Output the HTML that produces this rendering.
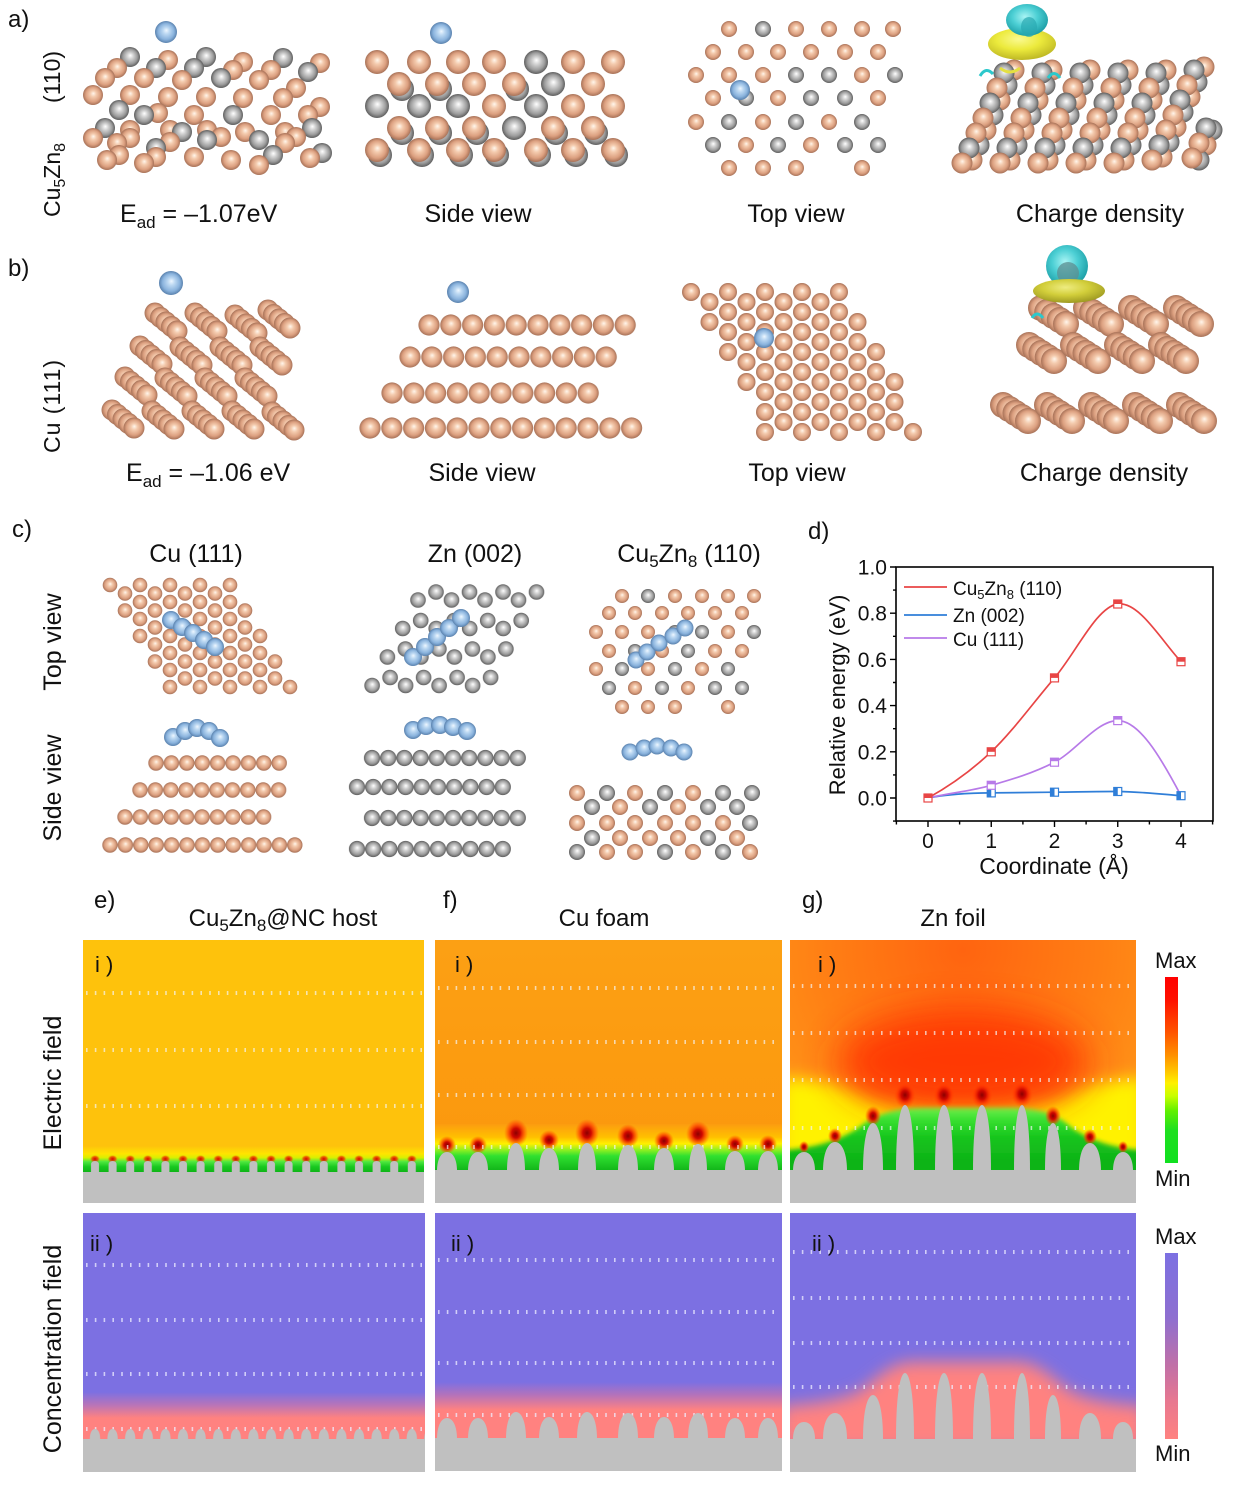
<!DOCTYPE html>
<html><head><meta charset="utf-8">
<style>
html,body{margin:0;padding:0;background:#fff;}
svg{display:block;}
text{font-family:"Liberation Sans",Arial,sans-serif;fill:#111;}
.c{fill:url(#gC);} .z{fill:url(#gZ);} .l{fill:url(#gL);}
</style></head><body>
<svg xmlns="http://www.w3.org/2000/svg" width="1233" height="1487" viewBox="0 0 1233 1487">
<defs>
<radialGradient id="gC" cx=".5" cy=".5" r=".5" fx=".52" fy=".42"><stop offset="0" stop-color="#FFF6EC"/><stop offset=".3" stop-color="#F4CBAE"/><stop offset=".72" stop-color="#DCA080"/><stop offset="1" stop-color="#A87258"/></radialGradient>
<radialGradient id="gZ" cx=".5" cy=".5" r=".5" fx=".52" fy=".42"><stop offset="0" stop-color="#FFFFFF"/><stop offset=".3" stop-color="#D4D4D4"/><stop offset=".72" stop-color="#9C9C9C"/><stop offset="1" stop-color="#5E5E5E"/></radialGradient>
<radialGradient id="gL" cx=".5" cy=".5" r=".5" fx=".52" fy=".42"><stop offset="0" stop-color="#EEF7FF"/><stop offset=".3" stop-color="#BCD8F2"/><stop offset=".72" stop-color="#8AB3DD"/><stop offset="1" stop-color="#5A82AE"/></radialGradient>
<radialGradient id="gCy" cx=".45" cy=".4" r=".6"><stop offset="0" stop-color="#A8F4F4"/><stop offset=".5" stop-color="#4CCFD4"/><stop offset="1" stop-color="#1C9EA6"/></radialGradient>
<radialGradient id="gY" cx=".45" cy=".35" r=".65"><stop offset="0" stop-color="#FAFA90"/><stop offset=".5" stop-color="#ECEA3C"/><stop offset="1" stop-color="#BEB824"/></radialGradient>
<radialGradient id="gY2" cx=".45" cy=".35" r=".65"><stop offset="0" stop-color="#EEEC80"/><stop offset=".5" stop-color="#D2CE3A"/><stop offset="1" stop-color="#9E9A22"/></radialGradient>
<radialGradient id="gHot"><stop offset="0" stop-color="#8C0000"/><stop offset=".35" stop-color="#D00800"/><stop offset=".7" stop-color="#FF3000" stop-opacity=".55"/><stop offset="1" stop-color="#FF5000" stop-opacity="0"/></radialGradient>
<radialGradient id="gHotS"><stop offset="0" stop-color="#D80000"/><stop offset=".6" stop-color="#F02800" stop-opacity=".7"/><stop offset="1" stop-color="#FF6000" stop-opacity="0"/></radialGradient>
<radialGradient id="gBgG" gradientUnits="userSpaceOnUse" cx="963" cy="950" r="300"><stop offset="0" stop-color="#FF6410"/><stop offset=".45" stop-color="#FF7E14"/><stop offset="1" stop-color="#FFA51A"/></radialGradient>
<linearGradient id="bandE" gradientUnits="userSpaceOnUse" x1="0" y1="1146" x2="0" y2="1172"><stop offset="0" stop-color="#FEC20C"/><stop offset=".3" stop-color="#FFE400"/><stop offset=".45" stop-color="#D8F000"/><stop offset=".6" stop-color="#50E840"/><stop offset=".8" stop-color="#18C820"/><stop offset="1" stop-color="#10B418"/></linearGradient>
<linearGradient id="bandF" gradientUnits="userSpaceOnUse" x1="0" y1="1124" x2="0" y2="1171"><stop offset="0" stop-color="#FC9C10"/><stop offset=".28" stop-color="#FFC000"/><stop offset=".42" stop-color="#FFF000"/><stop offset=".55" stop-color="#90F020"/><stop offset=".68" stop-color="#30E030"/><stop offset="1" stop-color="#10B418"/></linearGradient>
<linearGradient id="bgF" x1="0" y1="0" x2="0" y2="1"><stop offset="0" stop-color="#FCA014"/><stop offset="1" stop-color="#FB960C"/></linearGradient>
<linearGradient id="greenG" gradientUnits="userSpaceOnUse" x1="0" y1="1106" x2="0" y2="1160"><stop offset="0" stop-color="#78F050"/><stop offset=".25" stop-color="#38E030"/><stop offset=".6" stop-color="#14C41C"/><stop offset="1" stop-color="#10B418"/></linearGradient>
<linearGradient id="bandCe" gradientUnits="userSpaceOnUse" x1="0" y1="1392" x2="0" y2="1418"><stop offset="0" stop-color="#7C70E2"/><stop offset=".5" stop-color="#B874B8"/><stop offset="1" stop-color="#FF8280"/></linearGradient>
<linearGradient id="bandCf" gradientUnits="userSpaceOnUse" x1="0" y1="1382" x2="0" y2="1410"><stop offset="0" stop-color="#7C70E2"/><stop offset=".45" stop-color="#B272BC"/><stop offset="1" stop-color="#FF8280"/></linearGradient>
<linearGradient id="cbE" x1="0" y1="0" x2="0" y2="1"><stop offset="0" stop-color="#FF0000"/><stop offset=".12" stop-color="#FF1000"/><stop offset=".3" stop-color="#FF5500"/><stop offset=".42" stop-color="#FF9000"/><stop offset=".5" stop-color="#FFC000"/><stop offset=".57" stop-color="#FFF000"/><stop offset=".64" stop-color="#C8FF00"/><stop offset=".72" stop-color="#60F000"/><stop offset=".82" stop-color="#20E020"/><stop offset="1" stop-color="#10E020"/></linearGradient>
<linearGradient id="cbC" x1="0" y1="0" x2="0" y2="1"><stop offset="0" stop-color="#7C70E2"/><stop offset=".35" stop-color="#8E6FD0"/><stop offset=".6" stop-color="#C070A8"/><stop offset=".8" stop-color="#E87890"/><stop offset="1" stop-color="#FF8280"/></linearGradient>
<filter id="bl3" x="-50%" y="-50%" width="200%" height="200%"><feGaussianBlur stdDeviation="2.5"/></filter>
<filter id="bl8" x="-50%" y="-50%" width="200%" height="200%"><feGaussianBlur stdDeviation="8"/></filter>
<filter id="bl18" x="-50%" y="-50%" width="200%" height="200%"><feGaussianBlur stdDeviation="18"/></filter>
<clipPath id="ce"><rect x="83" y="940" width="341" height="263"/></clipPath>
<clipPath id="cf"><rect x="435" y="940" width="347" height="263"/></clipPath>
<clipPath id="cg"><rect x="790" y="940" width="346" height="263"/></clipPath>
<clipPath id="ce2"><rect x="83" y="1213" width="342" height="259"/></clipPath>
<clipPath id="cf2"><rect x="435" y="1213" width="347" height="258"/></clipPath>
<clipPath id="cg2"><rect x="790" y="1213" width="346" height="259"/></clipPath>
<pattern id="pB3" width="37" height="20" patternUnits="userSpaceOnUse"><circle cx="18.5" cy="10" r="9" fill="url(#gC)"/></pattern>
<pattern id="pC1" width="30" height="17" patternUnits="userSpaceOnUse"><circle cx="15" cy="8.5" r="7.3" fill="url(#gC)"/></pattern>
<pattern id="pZ2" width="33.5" height="18" patternUnits="userSpaceOnUse"><circle cx="16.75" cy="9" r="7.8" fill="url(#gZ)"/></pattern>
<pattern id="pB2" width="21.8" height="24" patternUnits="userSpaceOnUse"><circle cx="10.9" cy="12" r="10.6" fill="url(#gC)"/></pattern>
<pattern id="pC1s" width="15.4" height="17" patternUnits="userSpaceOnUse"><circle cx="7.7" cy="8.5" r="7.7" fill="url(#gC)"/></pattern>
<pattern id="pZ2s" width="16.2" height="18" patternUnits="userSpaceOnUse"><circle cx="8.1" cy="9" r="8.1" fill="url(#gZ)"/></pattern>
<pattern id="pBumpE" width="17.6" height="11" patternUnits="userSpaceOnUse"><path d="M4.8,11 L4.8,4 Q4.8,0 8.8,0 Q12.8,0 12.8,4 L12.8,11Z" fill="#C0C0C0"/></pattern>
<pattern id="pRedE" width="17.6" height="10" patternUnits="userSpaceOnUse"><ellipse cx="8.8" cy="5" rx="5" ry="4" fill="url(#gHotS)"/></pattern>
<pattern id="pBumpC" width="17.6" height="11" patternUnits="userSpaceOnUse"><path d="M3.6,11 C3.6,4 5.8,0.5 8.8,0.5 C11.8,0.5 14,4 14,11Z" fill="#C0C0C0"/></pattern>
<g id="sb1"><circle r="10.5" fill="url(#gC)"/><circle cx="5.5" cy="4.5" r="10.5" fill="url(#gC)"/><circle cx="11" cy="9" r="10.5" fill="url(#gC)"/><circle cx="16.5" cy="13.5" r="10.5" fill="url(#gC)"/><circle cx="22" cy="18" r="10.5" fill="url(#gC)"/></g>
<g id="sb4"><circle r="13" fill="url(#gC)"/><circle cx="6.25" cy="4" r="13" fill="url(#gC)"/><circle cx="12.5" cy="8" r="13" fill="url(#gC)"/><circle cx="18.75" cy="12" r="13" fill="url(#gC)"/><circle cx="25" cy="16" r="13" fill="url(#gC)"/></g>
<g id="sa4">
<circle cx="52" cy="-93" r="10.5" fill="url(#gC)"/><circle cx="45" cy="-78" r="10.5" fill="url(#gZ)"/><circle cx="38" cy="-63" r="10.5" fill="url(#gC)"/><circle cx="31" cy="-48" r="10.5" fill="url(#gZ)"/><circle cx="24" cy="-33" r="10.5" fill="url(#gC)"/><circle cx="17" cy="-18" r="10.5" fill="url(#gZ)"/><circle cx="10" cy="-3" r="10.5" fill="url(#gC)"/>
<circle cx="42" cy="-90" r="10.5" fill="url(#gZ)"/><circle cx="35" cy="-75" r="10.5" fill="url(#gC)"/><circle cx="28" cy="-60" r="10.5" fill="url(#gZ)"/><circle cx="21" cy="-45" r="10.5" fill="url(#gC)"/><circle cx="14" cy="-30" r="10.5" fill="url(#gC)"/><circle cx="7" cy="-15" r="10.5" fill="url(#gZ)"/><circle cx="0" cy="0" r="10.5" fill="url(#gC)"/>
</g>
</defs>
<rect width="1233" height="1487" fill="#fff"/>

<!-- ================= PANEL a ================= -->
<text x="8" y="27" font-size="24">a)</text>
<text transform="translate(60,217) rotate(-90)" font-size="23">Cu<tspan font-size="16" dy="5">5</tspan><tspan dy="-5">Zn</tspan><tspan font-size="16" dy="5">8</tspan><tspan dy="-5" dx="40">(110)</tspan></text>

<g>
<circle class="z" cx="130" cy="57" r="10"/><circle class="z" cx="206" cy="57" r="10"/><circle class="z" cx="283" cy="58" r="10"/><circle class="c" cx="168" cy="60" r="10"/><circle class="c" cx="243" cy="62" r="10"/><circle class="c" cx="320" cy="63" r="10"/>
<circle class="c" cx="117" cy="68" r="10"/><circle class="z" cx="156" cy="68" r="10"/><circle class="z" cx="194" cy="68" r="10"/><circle class="c" cx="233" cy="70" r="10"/><circle class="c" cx="271" cy="70" r="10"/><circle class="z" cx="308" cy="72" r="10"/>
<circle class="c" cx="105" cy="78" r="10"/><circle class="c" cx="144" cy="78" r="10"/><circle class="z" cx="221" cy="78" r="10"/><circle class="c" cx="182" cy="80" r="10"/><circle class="c" cx="259" cy="80" r="10"/><circle class="c" cx="296" cy="88" r="10"/>
<circle class="c" cx="93" cy="95" r="10"/><circle class="c" cx="130" cy="95" r="10"/><circle class="c" cx="168" cy="97" r="10"/><circle class="c" cx="206" cy="97" r="10"/><circle class="c" cx="243" cy="98" r="10"/><circle class="c" cx="283" cy="98" r="10"/><circle class="c" cx="320" cy="107" r="10"/>
<circle class="z" cx="119" cy="110" r="10"/><circle class="c" cx="158" cy="113" r="10"/><circle class="z" cx="144" cy="115" r="10"/><circle class="c" cx="194" cy="115" r="10"/><circle class="z" cx="233" cy="115" r="10"/><circle class="c" cx="271" cy="115" r="10"/><circle class="c" cx="308" cy="115" r="10"/>
<circle class="z" cx="105" cy="128" r="10"/><circle class="z" cx="312" cy="128" r="10"/><circle class="c" cx="130" cy="130" r="10"/><circle class="c" cx="170" cy="130" r="10"/><circle class="c" cx="207" cy="130" r="10"/><circle class="z" cx="182" cy="132" r="10"/><circle class="c" cx="245" cy="132" r="10"/><circle class="c" cx="285" cy="132" r="10"/>
<circle class="c" cx="221" cy="137" r="10"/><circle class="c" cx="296" cy="137" r="10"/><circle class="c" cx="93" cy="138" r="10"/><circle class="c" cx="130" cy="138" r="10"/><circle class="z" cx="207" cy="140" r="10"/><circle class="z" cx="259" cy="140" r="10"/><circle class="c" cx="170" cy="142" r="10"/><circle class="c" cx="117" cy="143" r="10"/><circle class="c" cx="285" cy="143" r="10"/><circle class="z" cx="156" cy="148" r="10"/>
<circle class="z" cx="322" cy="153" r="10"/><circle class="c" cx="119" cy="155" r="10"/><circle class="z" cx="273" cy="155" r="10"/><circle class="c" cx="156" cy="157" r="10"/><circle class="c" cx="194" cy="157" r="10"/><circle class="c" cx="310" cy="158" r="10"/><circle class="c" cx="107" cy="160" r="10"/><circle class="c" cx="231" cy="160" r="10"/><circle class="c" cx="144" cy="163" r="10"/><circle class="c" cx="259" cy="165" r="10"/>
<circle class="l" cx="166" cy="32" r="11"/>
</g>

<g>
<circle class="c" cx="377" cy="62" r="12"/><circle class="c" cx="419" cy="62" r="12"/><circle class="c" cx="458" cy="62" r="12"/><circle class="c" cx="494" cy="62" r="12"/><circle class="z" cx="536" cy="62" r="12"/><circle class="c" cx="573" cy="62" r="12"/><circle class="c" cx="613" cy="62" r="12"/>
<circle class="z" cx="402" cy="89" r="12"/><circle class="z" cx="440" cy="89" r="12"/><circle class="z" cx="517" cy="89" r="12"/>
<circle class="c" cx="399" cy="84" r="12"/><circle class="c" cx="437" cy="84" r="12"/><circle class="c" cx="474" cy="84" r="12"/><circle class="c" cx="514" cy="84" r="12"/><circle class="z" cx="553" cy="84" r="12"/><circle class="c" cx="593" cy="84" r="12"/>
<circle class="z" cx="377" cy="106" r="12"/><circle class="z" cx="419" cy="106" r="12"/><circle class="z" cx="458" cy="106" r="12"/><circle class="c" cx="494" cy="106" r="12"/><circle class="z" cx="536" cy="106" r="12"/><circle class="c" cx="573" cy="106" r="12"/><circle class="c" cx="613" cy="106" r="12"/>
<circle class="z" cx="402" cy="133" r="12"/><circle class="z" cx="440" cy="133" r="12"/><circle class="z" cx="477" cy="133" r="12"/><circle class="z" cx="556" cy="133" r="12"/><circle class="z" cx="596" cy="133" r="12"/>
<circle class="c" cx="399" cy="128" r="12"/><circle class="c" cx="437" cy="128" r="12"/><circle class="c" cx="474" cy="128" r="12"/><circle class="z" cx="514" cy="128" r="12"/><circle class="c" cx="553" cy="128" r="12"/><circle class="c" cx="593" cy="128" r="12"/>
<circle class="z" cx="380" cy="155" r="12"/><circle class="z" cx="422" cy="155" r="12"/><circle class="z" cx="461" cy="155" r="12"/><circle class="z" cx="497" cy="155" r="12"/><circle class="z" cx="539" cy="155" r="12"/><circle class="z" cx="576" cy="155" r="12"/><circle class="z" cx="616" cy="155" r="12"/>
<circle class="c" cx="377" cy="150" r="12"/><circle class="c" cx="419" cy="150" r="12"/><circle class="c" cx="458" cy="150" r="12"/><circle class="c" cx="494" cy="150" r="12"/><circle class="c" cx="536" cy="150" r="12"/><circle class="c" cx="573" cy="150" r="12"/><circle class="c" cx="613" cy="150" r="12"/>
<circle class="l" cx="441" cy="33" r="11"/>
</g>

<g>
<circle class="c" cx="729" cy="29" r="8"/><circle class="z" cx="763" cy="29" r="8"/><circle class="c" cx="796" cy="29" r="8"/><circle class="c" cx="829" cy="29" r="8"/><circle class="c" cx="862" cy="29" r="8"/><circle class="c" cx="893" cy="29" r="8"/>
<circle class="c" cx="713" cy="52" r="8"/><circle class="c" cx="746" cy="52" r="8"/><circle class="c" cx="778" cy="52" r="8"/><circle class="c" cx="811" cy="52" r="8"/><circle class="c" cx="845" cy="52" r="8"/><circle class="c" cx="878" cy="52" r="8"/>
<circle class="c" cx="696" cy="75" r="8"/><circle class="c" cx="729" cy="75" r="8"/><circle class="c" cx="763" cy="75" r="8"/><circle class="z" cx="796" cy="75" r="8"/><circle class="z" cx="829" cy="75" r="8"/><circle class="c" cx="862" cy="75" r="8"/><circle class="z" cx="895" cy="75" r="8"/>
<circle class="c" cx="713" cy="98" r="8"/><circle class="z" cx="746" cy="98" r="8"/><circle class="c" cx="778" cy="98" r="8"/><circle class="z" cx="811" cy="98" r="8"/><circle class="z" cx="845" cy="98" r="8"/><circle class="c" cx="878" cy="98" r="8"/>
<circle class="c" cx="696" cy="122" r="8"/><circle class="z" cx="729" cy="122" r="8"/><circle class="c" cx="763" cy="122" r="8"/><circle class="z" cx="796" cy="122" r="8"/><circle class="c" cx="829" cy="122" r="8"/><circle class="z" cx="862" cy="122" r="8"/>
<circle class="z" cx="713" cy="145" r="8"/><circle class="c" cx="746" cy="145" r="8"/><circle class="z" cx="778" cy="145" r="8"/><circle class="c" cx="811" cy="145" r="8"/><circle class="z" cx="845" cy="145" r="8"/><circle class="z" cx="878" cy="145" r="8"/>
<circle class="c" cx="729" cy="168" r="8"/><circle class="c" cx="763" cy="168" r="8"/><circle class="c" cx="796" cy="168" r="8"/><circle class="c" cx="862" cy="168" r="8"/>
<circle class="l" cx="740" cy="90" r="10"/>
</g>

<g>
<use href="#sa4" x="962" y="163"/><use href="#sa4" x="1000" y="163"/><use href="#sa4" x="1038" y="163"/><use href="#sa4" x="1076" y="163"/><use href="#sa4" x="1114" y="163"/><use href="#sa4" x="1152" y="160"/>
<circle class="z" cx="1212" cy="130" r="10.5"/><circle class="c" cx="1206" cy="145" r="10.5"/><circle class="z" cx="1199" cy="160" r="10.5"/>
<circle class="z" cx="1206" cy="128" r="10.5"/><circle class="c" cx="1199" cy="143" r="10.5"/><circle class="c" cx="1192" cy="158" r="10.5"/>
<path d="M980,76 q6,-10 13,-2" stroke="#2CC8CC" stroke-width="3" fill="none"/>
<path d="M1048,78 q6,-9 12,0" stroke="#2CC8CC" stroke-width="3" fill="none"/>
<path d="M1000,68 q10,8 20,0" stroke="#E4E040" stroke-width="3" fill="none"/>
<ellipse cx="1022" cy="44" rx="34" ry="16" fill="url(#gY)"/>
<ellipse cx="1027" cy="20" rx="21" ry="16" fill="url(#gCy)"/>
<ellipse cx="1029" cy="27" rx="8" ry="10" fill="#2AA8B0" opacity=".7"/>
</g>

<g font-size="25" text-anchor="middle">
<text x="120" y="222" text-anchor="start">E<tspan font-size="17" dy="6">ad</tspan><tspan dy="-6"> = –1.07eV</tspan></text>
<text x="478" y="222">Side view</text>
<text x="796" y="222">Top view</text>
<text x="1100" y="222">Charge density</text>
</g>

<!-- ================= PANEL b ================= -->
<text x="8" y="276" font-size="24">b)</text>
<text transform="translate(60,453) rotate(-90)" font-size="23" letter-spacing="1">Cu (111)</text>

<g>
<circle class="l" cx="171" cy="283" r="12"/>
<use href="#sb1" x="155" y="313"/><use href="#sb1" x="195" y="313"/><use href="#sb1" x="235" y="315"/><use href="#sb1" x="268" y="310"/>
<use href="#sb1" x="140" y="346"/><use href="#sb1" x="180" y="347"/><use href="#sb1" x="220" y="347"/><use href="#sb1" x="260" y="347"/>
<use href="#sb1" x="125" y="377"/><use href="#sb1" x="165" y="378"/><use href="#sb1" x="205" y="378"/><use href="#sb1" x="245" y="378"/>
<use href="#sb1" x="112" y="410"/><use href="#sb1" x="152" y="411"/><use href="#sb1" x="192" y="411"/><use href="#sb1" x="232" y="411"/><use href="#sb1" x="272" y="412"/>
</g>

<g>
<rect transform="translate(418.1,313)" width="218" height="24" fill="url(#pB2)"/>
<rect transform="translate(399.1,345)" width="218" height="24" fill="url(#pB2)"/>
<rect transform="translate(381.1,381)" width="218" height="24" fill="url(#pB2)"/>
<rect transform="translate(359.1,416)" width="283.4" height="24" fill="url(#pB2)"/>
<circle class="l" cx="458" cy="292" r="11"/>
</g>

<g>
<rect transform="translate(672.5,282)" width="185" height="20" fill="url(#pB3)"/>
<rect transform="translate(691,292)" width="148" height="20" fill="url(#pB3)"/>
<rect transform="translate(709.5,302)" width="148" height="20" fill="url(#pB3)"/>
<rect transform="translate(691,312)" width="185" height="20" fill="url(#pB3)"/>
<rect transform="translate(709.5,322)" width="148" height="20" fill="url(#pB3)"/>
<rect transform="translate(728,332)" width="148" height="20" fill="url(#pB3)"/>
<rect transform="translate(709.5,342)" width="185" height="20" fill="url(#pB3)"/>
<rect transform="translate(728,352)" width="148" height="20" fill="url(#pB3)"/>
<rect transform="translate(746.5,362)" width="148" height="20" fill="url(#pB3)"/>
<rect transform="translate(728,372)" width="185" height="20" fill="url(#pB3)"/>
<rect transform="translate(746.5,382)" width="148" height="20" fill="url(#pB3)"/>
<rect transform="translate(765,392)" width="148" height="20" fill="url(#pB3)"/>
<rect transform="translate(746.5,402)" width="148" height="20" fill="url(#pB3)"/>
<rect transform="translate(765,412)" width="148" height="20" fill="url(#pB3)"/>
<rect transform="translate(746.5,422)" width="185" height="20" fill="url(#pB3)"/>
<circle class="l" cx="764" cy="338" r="10"/>
</g>

<g>
<use href="#sb4" x="1041" y="308"/><use href="#sb4" x="1086" y="308"/><use href="#sb4" x="1131" y="308"/><use href="#sb4" x="1176" y="308"/>
<use href="#sb4" x="1029" y="345"/><use href="#sb4" x="1073" y="345"/><use href="#sb4" x="1117" y="345"/><use href="#sb4" x="1161" y="345"/>
<use href="#sb4" x="1003" y="405"/><use href="#sb4" x="1047" y="405"/><use href="#sb4" x="1091" y="405"/><use href="#sb4" x="1135" y="405"/><use href="#sb4" x="1179" y="405"/>
<path d="M1032,318 q5,-8 11,0" stroke="#2CC8CC" stroke-width="3" fill="none"/>
<ellipse cx="1067" cy="266" rx="21" ry="21" fill="url(#gCy)"/>
<circle cx="1068" cy="273" r="11" fill="#5E8E90" opacity=".75"/>
<ellipse cx="1069" cy="291" rx="36" ry="12" fill="url(#gY2)"/>
</g>

<g font-size="25" text-anchor="middle">
<text x="126" y="481" text-anchor="start">E<tspan font-size="17" dy="6">ad</tspan><tspan dy="-6"> = –1.06 eV</tspan></text>
<text x="482" y="481">Side view</text>
<text x="797" y="481">Top view</text>
<text x="1104" y="481">Charge density</text>
</g>

<!-- ================= PANEL c ================= -->
<text x="12" y="537" font-size="24">c)</text>
<g font-size="25" text-anchor="middle">
<text x="196" y="562">Cu (111)</text>
<text x="475" y="562">Zn (002)</text>
<text x="689" y="562">Cu<tspan font-size="17" dy="5">5</tspan><tspan dy="-5">Zn</tspan><tspan font-size="17" dy="5">8</tspan><tspan dy="-5"> (110)</tspan></text>
<text transform="translate(61,642) rotate(-90)">Top view</text>
<text transform="translate(61,788) rotate(-90)">Side view</text>
</g>

<g>
<rect transform="translate(95,576.5)" width="150" height="17" fill="url(#pC1)"/>
<rect transform="translate(110,585)" width="120" height="17" fill="url(#pC1)"/>
<rect transform="translate(125,593.5)" width="120" height="17" fill="url(#pC1)"/>
<rect transform="translate(110,602)" width="150" height="17" fill="url(#pC1)"/>
<rect transform="translate(125,610.5)" width="120" height="17" fill="url(#pC1)"/>
<rect transform="translate(140,619)" width="120" height="17" fill="url(#pC1)"/>
<rect transform="translate(125,627.5)" width="150" height="17" fill="url(#pC1)"/>
<rect transform="translate(140,636)" width="120" height="17" fill="url(#pC1)"/>
<rect transform="translate(155,644.5)" width="120" height="17" fill="url(#pC1)"/>
<rect transform="translate(140,653)" width="150" height="17" fill="url(#pC1)"/>
<rect transform="translate(155,661.5)" width="120" height="17" fill="url(#pC1)"/>
<rect transform="translate(170,670)" width="120" height="17" fill="url(#pC1)"/>
<rect transform="translate(155,678.5)" width="150" height="17" fill="url(#pC1)"/>
<circle class="l" cx="171" cy="620" r="9"/><circle class="l" cx="182" cy="627" r="9"/><circle class="l" cx="193" cy="633" r="9"/><circle class="l" cx="204" cy="640" r="9"/><circle class="l" cx="215" cy="647" r="9"/>
</g>

<g>
<rect transform="translate(419.25,583)" width="134" height="18" fill="url(#pZ2)"/>
<rect transform="translate(401.25,591)" width="134" height="18" fill="url(#pZ2)"/>
<rect transform="translate(403.95,611.5)" width="134" height="18" fill="url(#pZ2)"/>
<rect transform="translate(385.95,619.5)" width="134" height="18" fill="url(#pZ2)"/>
<rect transform="translate(388.65,640)" width="134" height="18" fill="url(#pZ2)"/>
<rect transform="translate(370.65,648)" width="134" height="18" fill="url(#pZ2)"/>
<rect transform="translate(373.35,668.5)" width="134" height="18" fill="url(#pZ2)"/>
<rect transform="translate(355.35,676.5)" width="134" height="18" fill="url(#pZ2)"/>
<circle class="l" cx="413" cy="657" r="9"/><circle class="l" cx="425" cy="647" r="9"/><circle class="l" cx="437" cy="637" r="9"/><circle class="l" cx="449" cy="628" r="9"/><circle class="l" cx="461" cy="618" r="9"/>
</g>

<g>
<circle class="c" cx="622" cy="596" r="7"/><circle class="z" cx="648" cy="596" r="7"/><circle class="c" cx="675" cy="596" r="7"/><circle class="c" cx="702" cy="596" r="7"/><circle class="c" cx="728" cy="596" r="7"/><circle class="c" cx="754" cy="596" r="7"/>
<circle class="c" cx="609" cy="613" r="7"/><circle class="c" cx="635" cy="613" r="7"/><circle class="c" cx="662" cy="613" r="7"/><circle class="c" cx="688" cy="613" r="7"/><circle class="c" cx="715" cy="613" r="7"/><circle class="c" cx="742" cy="613" r="7"/>
<circle class="c" cx="596" cy="632" r="7"/><circle class="c" cx="622" cy="632" r="7"/><circle class="c" cx="648" cy="632" r="7"/><circle class="z" cx="675" cy="632" r="7"/><circle class="z" cx="702" cy="632" r="7"/><circle class="c" cx="728" cy="632" r="7"/><circle class="z" cx="754" cy="632" r="7"/>
<circle class="c" cx="609" cy="651" r="7"/><circle class="z" cx="635" cy="651" r="7"/><circle class="c" cx="662" cy="651" r="7"/><circle class="z" cx="688" cy="651" r="7"/><circle class="c" cx="715" cy="651" r="7"/><circle class="c" cx="742" cy="651" r="7"/>
<circle class="c" cx="596" cy="669" r="7"/><circle class="z" cx="622" cy="669" r="7"/><circle class="c" cx="648" cy="669" r="7"/><circle class="z" cx="675" cy="669" r="7"/><circle class="c" cx="702" cy="669" r="7"/><circle class="z" cx="728" cy="669" r="7"/>
<circle class="z" cx="609" cy="688" r="7"/><circle class="c" cx="635" cy="688" r="7"/><circle class="z" cx="662" cy="688" r="7"/><circle class="c" cx="688" cy="688" r="7"/><circle class="z" cx="715" cy="688" r="7"/><circle class="z" cx="742" cy="688" r="7"/>
<circle class="c" cx="622" cy="707" r="7"/><circle class="c" cx="648" cy="707" r="7"/><circle class="c" cx="675" cy="707" r="7"/><circle class="c" cx="728" cy="707" r="7"/>
<circle class="l" cx="636" cy="660" r="8.5"/><circle class="l" cx="647" cy="652" r="8.5"/><circle class="l" cx="659" cy="643" r="8.5"/><circle class="l" cx="673" cy="636" r="8.5"/><circle class="l" cx="685" cy="628" r="8.5"/>
</g>

<g>
<circle class="l" cx="173" cy="737" r="9"/><circle class="l" cx="185" cy="731" r="9"/><circle class="l" cx="197" cy="728" r="9"/><circle class="l" cx="209" cy="731" r="9"/><circle class="l" cx="220" cy="738" r="9"/>
<rect transform="translate(148.3,754.5)" width="138.6" height="17" fill="url(#pC1s)"/>
<rect transform="translate(132.3,781.5)" width="154" height="17" fill="url(#pC1s)"/>
<rect transform="translate(117.3,808.5)" width="154" height="17" fill="url(#pC1s)"/>
<rect transform="translate(102.3,836.5)" width="200.2" height="17" fill="url(#pC1s)"/>
</g>

<g>
<circle class="l" cx="413" cy="730" r="9"/><circle class="l" cx="426" cy="726" r="9"/><circle class="l" cx="440" cy="725" r="9"/><circle class="l" cx="453" cy="727" r="9"/><circle class="l" cx="467" cy="731" r="9"/>
<rect transform="translate(363.9,749)" width="162" height="18" fill="url(#pZ2s)"/>
<rect transform="translate(348.9,778)" width="162" height="18" fill="url(#pZ2s)"/>
<rect transform="translate(363.9,809)" width="162" height="18" fill="url(#pZ2s)"/>
<rect transform="translate(348.9,840)" width="162" height="18" fill="url(#pZ2s)"/>
</g>

<g>
<circle class="l" cx="630" cy="752" r="8.5"/><circle class="l" cx="644" cy="748" r="8.5"/><circle class="l" cx="657" cy="746" r="8.5"/><circle class="l" cx="671" cy="748" r="8.5"/><circle class="l" cx="684" cy="752" r="8.5"/>
<circle class="c" cx="577" cy="793" r="8"/><circle class="z" cx="607" cy="793" r="8"/><circle class="c" cx="635" cy="793" r="8"/><circle class="z" cx="665" cy="793" r="8"/><circle class="c" cx="693" cy="793" r="8"/><circle class="z" cx="723" cy="793" r="8"/><circle class="z" cx="752" cy="793" r="8"/>
<circle class="z" cx="592" cy="807" r="8"/><circle class="c" cx="620" cy="807" r="8"/><circle class="z" cx="650" cy="807" r="8"/><circle class="c" cx="678" cy="807" r="8"/><circle class="z" cx="708" cy="807" r="8"/><circle class="z" cx="737" cy="807" r="8"/>
<circle class="c" cx="577" cy="823" r="8"/><circle class="c" cx="607" cy="823" r="8"/><circle class="c" cx="635" cy="823" r="8"/><circle class="c" cx="665" cy="823" r="8"/><circle class="c" cx="693" cy="823" r="8"/><circle class="c" cx="723" cy="823" r="8"/><circle class="z" cx="750" cy="823" r="8"/>
<circle class="z" cx="592" cy="838" r="8"/><circle class="c" cx="620" cy="838" r="8"/><circle class="c" cx="650" cy="838" r="8"/><circle class="c" cx="678" cy="838" r="8"/><circle class="z" cx="708" cy="838" r="8"/><circle class="c" cx="737" cy="838" r="8"/>
<circle class="z" cx="577" cy="852" r="8"/><circle class="c" cx="607" cy="852" r="8"/><circle class="c" cx="635" cy="852" r="8"/><circle class="z" cx="665" cy="852" r="8"/><circle class="c" cx="693" cy="852" r="8"/><circle class="z" cx="723" cy="852" r="8"/><circle class="c" cx="750" cy="852" r="8"/>
</g>

<!-- ================= PANEL d ================= -->
<text x="808" y="539" font-size="24">d)</text>
<rect x="896" y="567" width="317" height="254" fill="none" stroke="#000" stroke-width="1.6"/>
<path d="M890,567H896 M890,613.2H896 M890,659.4H896 M890,705.6H896 M890,751.8H896 M890,798H896 M893,590.1H896 M893,636.3H896 M893,682.5H896 M893,728.7H896 M893,774.9H896 M893,821.1H896 M928,821V827 M991.25,821V827 M1054.5,821V827 M1117.75,821V827 M1181,821V827 M896.4,821V824.5 M959.6,821V824.5 M1022.9,821V824.5 M1086.1,821V824.5 M1149.4,821V824.5 M1212.6,821V824.5" stroke="#000" stroke-width="1.4" fill="none"/>
<g font-size="21" text-anchor="end">
<text x="887" y="574.5">1.0</text><text x="887" y="620.7">0.8</text><text x="887" y="666.9">0.6</text><text x="887" y="713.1">0.4</text><text x="887" y="759.3">0.2</text><text x="887" y="805.5">0.0</text>
</g>
<g font-size="21" text-anchor="middle">
<text x="928" y="848">0</text><text x="991.25" y="848">1</text><text x="1054.5" y="848">2</text><text x="1117.75" y="848">3</text><text x="1181" y="848">4</text>
</g>
<text x="1054" y="874" font-size="23" text-anchor="middle">Coordinate (Å)</text>
<text transform="translate(845,695) rotate(-90)" font-size="22" text-anchor="middle">Relative energy (eV)</text>

<path d="M928,798 C949,794 970,793 991.25,792.9 C1012,792.8 1033,792.4 1054.5,792.2 C1076,792 1097,791.3 1117.75,791.5 C1139,791.7 1160,794 1181,795.7" stroke="#2F7ED8" stroke-width="1.7" fill="none"/>
<path d="M928,798 C949.1,793 970.2,791.3 991.25,785.3 C1012.3,779.3 1033.4,773 1054.5,762.2 C1075.6,751.4 1096.7,720.6 1117.75,720.6 C1138.8,720.6 1159.9,755.7 1181,795.7" stroke="#B77AE8" stroke-width="1.7" fill="none"/>
<path d="M928,798 C949.1,786.3 970.2,771.8 991.25,751.8 C1012.3,731.8 1033.4,702.5 1054.5,677.9 C1075.6,653.3 1096.7,606.7 1117.75,604 C1138.8,601.3 1159.9,638.4 1181,661.7" stroke="#E84545" stroke-width="1.7" fill="none"/>
<g stroke-width="1.2">
<g stroke="#2F7ED8"><rect x="987.25" y="788.9" width="8" height="8" fill="#fff"/><rect x="1050.5" y="788.2" width="8" height="8" fill="#fff"/><rect x="1113.75" y="787.5" width="8" height="8" fill="#fff"/><rect x="1177" y="791.7" width="8" height="8" fill="#fff"/></g>
<g fill="#2F7ED8"><rect x="987.25" y="788.9" width="4" height="8"/><rect x="1050.5" y="788.2" width="4" height="8"/><rect x="1113.75" y="787.5" width="4" height="8"/><rect x="1177" y="791.7" width="4" height="8"/></g>
<g stroke="#B77AE8" fill="#fff"><rect x="987.25" y="781.3" width="8" height="8"/><rect x="1050.5" y="758.2" width="8" height="8"/><rect x="1113.75" y="716.6" width="8" height="8"/></g>
<g fill="#B77AE8"><rect x="987.25" y="781.3" width="8" height="3"/><rect x="1050.5" y="758.2" width="8" height="3"/><rect x="1113.75" y="716.6" width="8" height="3"/></g>
<g stroke="#E84545" fill="#fff"><rect x="924" y="794" width="8" height="8"/><rect x="987.25" y="747.8" width="8" height="8"/><rect x="1050.5" y="673.9" width="8" height="8"/><rect x="1113.75" y="600" width="8" height="8"/><rect x="1177" y="657.7" width="8" height="8"/></g>
<g fill="#E84545"><rect x="924" y="794" width="8" height="4"/><rect x="987.25" y="747.8" width="8" height="4"/><rect x="1050.5" y="673.9" width="8" height="4"/><rect x="1113.75" y="600" width="8" height="4"/><rect x="1177" y="657.7" width="8" height="4"/></g>
</g>
<path d="M904,587H947" stroke="#E84545" stroke-width="1.8"/>
<path d="M904,615H947" stroke="#2F7ED8" stroke-width="1.8"/>
<path d="M904,638H947" stroke="#B77AE8" stroke-width="1.8"/>
<g font-size="19">
<text x="953" y="595">Cu<tspan font-size="13" dy="4">5</tspan><tspan dy="-4">Zn</tspan><tspan font-size="13" dy="4">8</tspan><tspan dy="-4"> (110)</tspan></text>
<text x="953" y="622">Zn (002)</text>
<text x="953" y="646">Cu (111)</text>
</g>

<!-- ================= PANELS e f g titles ================= -->
<g font-size="24">
<text x="94" y="908">e)</text><text x="443" y="908">f)</text><text x="802" y="908">g)</text>
</g>
<g font-size="24" text-anchor="middle">
<text x="283" y="926">Cu<tspan font-size="17" dy="5">5</tspan><tspan dy="-5">Zn</tspan><tspan font-size="17" dy="5">8</tspan><tspan dy="-5">@NC host</tspan></text>
<text x="604" y="926">Cu foam</text>
<text x="953" y="926">Zn foil</text>
</g>
<g font-size="25" text-anchor="middle">
<text transform="translate(61,1083) rotate(-90)">Electric field</text>
<text transform="translate(61,1349) rotate(-90)">Concentration field</text>
</g>

<!-- e electric -->
<g clip-path="url(#ce)">
<rect x="83" y="940" width="341" height="263" fill="#FEC20C"/>
<rect x="83" y="1146" width="341" height="27" fill="url(#bandE)"/>
<rect transform="translate(68.6,1154)" x="14.4" width="341" height="10" fill="url(#pRedE)"/>
<g stroke="#F4F4F4" stroke-opacity=".7" stroke-width="4" stroke-dasharray="1.6 7.2"><path d="M86,993H422 M86,1050H422 M86,1106H422"/></g>
<rect transform="translate(68.6,1161)" x="14.4" width="341" height="11" fill="url(#pBumpE)"/>
<rect x="83" y="1172" width="341" height="31" fill="#C0C0C0"/>
</g>

<!-- f electric -->
<g clip-path="url(#cf)">
<rect x="435" y="940" width="347" height="263" fill="url(#bgF)"/>
<rect x="435" y="1124" width="347" height="48" fill="url(#bandF)"/>
<g fill="url(#gHot)">
<ellipse cx="447" cy="1145" rx="9" ry="9"/><ellipse cx="478" cy="1145" rx="9" ry="9"/><ellipse cx="516" cy="1133" rx="12" ry="14"/><ellipse cx="549" cy="1140" rx="10" ry="10"/><ellipse cx="587" cy="1133" rx="12" ry="14"/><ellipse cx="628" cy="1136" rx="11" ry="12"/><ellipse cx="664" cy="1141" rx="10" ry="10"/><ellipse cx="698" cy="1134" rx="12" ry="13"/><ellipse cx="735" cy="1144" rx="9" ry="9"/><ellipse cx="768" cy="1144" rx="9" ry="9"/>
</g>
<g stroke="#F4F4F4" stroke-opacity=".7" stroke-width="4" stroke-dasharray="1.6 7.2"><path d="M438,988H780 M438,1042H780 M438,1095H780 M438,1147H780"/></g>
<g fill="#C0C0C0">
<path d="M437,1171 C437,1158.7 441.5,1152 447,1152 C452.5,1152 457,1158.7 457,1171Z"/>
<path d="M468,1171 C468,1158.7 472.5,1152 478,1152 C483.5,1152 488,1158.7 488,1171Z"/>
<path d="M507,1171 C507,1152.8 511,1143 516,1143 C521,1143 525,1152.8 525,1171Z"/>
<path d="M539,1171 C539,1156 543.5,1148 549,1148 C554.5,1148 559,1156 559,1171Z"/>
<path d="M578,1171 C578,1152.8 582,1143 587,1143 C592,1143 596,1152.8 596,1171Z"/>
<path d="M618,1171 C618,1154 622.5,1145 628,1145 C633.5,1145 638,1154 638,1171Z"/>
<path d="M654,1171 C654,1156 658.5,1148 664,1148 C669.5,1148 674,1156 674,1171Z"/>
<path d="M689,1171 C689,1153.5 693,1144 698,1144 C703,1144 707,1153.5 707,1171Z"/>
<path d="M725,1171 C725,1158 729.5,1151 735,1151 C740.5,1151 745,1158 745,1171Z"/>
<path d="M758,1171 C758,1158 762.5,1151 768,1151 C773.5,1151 778,1158 778,1171Z"/>
<rect x="435" y="1170" width="347" height="33"/>
</g>
</g>

<!-- g electric -->
<g clip-path="url(#cg)">
<rect x="790" y="940" width="346" height="263" fill="url(#gBgG)"/>
<path d="M780,1180 L780,1078 C820,1078 850,1088 870,1098 C890,1104 910,1106 930,1106 L1000,1106 C1020,1106 1040,1104 1060,1098 C1080,1088 1110,1078 1146,1078 L1146,1180Z" fill="#FFF200" filter="url(#bl8)"/>
<ellipse cx="963" cy="1062" rx="125" ry="52" fill="#FF2A00" opacity=".8" filter="url(#bl18)"/>
<path d="M785,1175 L785,1150 C815,1148 840,1140 858,1128 C878,1112 900,1108 925,1108 L1005,1108 C1035,1108 1055,1112 1072,1128 C1090,1140 1112,1148 1141,1150 L1141,1175Z" fill="url(#greenG)" filter="url(#bl3)"/>
<g fill="url(#gHot)">
<ellipse cx="905" cy="1095" rx="11" ry="13"/><ellipse cx="944" cy="1095" rx="11" ry="13"/><ellipse cx="982" cy="1095" rx="11" ry="13"/><ellipse cx="1022" cy="1094" rx="11" ry="13"/>
<ellipse cx="873" cy="1116" rx="8" ry="10"/><ellipse cx="1053" cy="1116" rx="8" ry="10"/><ellipse cx="835" cy="1136" rx="7" ry="8"/><ellipse cx="1090" cy="1137" rx="7" ry="8"/><ellipse cx="804" cy="1147" rx="5" ry="6"/><ellipse cx="1123" cy="1147" rx="5" ry="6"/>
</g>
<g stroke="#F4F4F4" stroke-opacity=".7" stroke-width="4" stroke-dasharray="1.6 7.2"><path d="M793,986H1134 M793,1033H1134 M793,1080H1134 M793,1128H1134"/></g>
<g fill="#C0C0C0">
<path d="M793,1171 C793,1158.7 798,1152 804,1152 C810,1152 815,1158.7 815,1171Z"/>
<path d="M823,1171 C823,1152.2 828.4,1142 835,1142 C841.6,1142 847,1152.2 847,1171Z"/>
<path d="M863,1171 C863,1139.8 867.5,1123 873,1123 C878.5,1123 883,1139.8 883,1171Z"/>
<path d="M896,1171 C896,1128 900,1105 905,1105 C910,1105 914,1128 914,1171Z"/>
<path d="M935,1171 C935,1128 939,1105 944,1105 C949,1105 953,1128 953,1171Z"/>
<path d="M973,1171 C973,1128 977,1105 982,1105 C987,1105 991,1128 991,1171Z"/>
<path d="M1014,1171 C1014,1128 1017.6,1105 1022,1105 C1026.4,1105 1030,1128 1030,1171Z"/>
<path d="M1045,1171 C1045,1139.8 1048.6,1123 1053,1123 C1057.4,1123 1061,1139.8 1061,1171Z"/>
<path d="M1079,1171 C1079,1152.8 1084,1143 1090,1143 C1096,1143 1101,1152.8 1101,1171Z"/>
<path d="M1113,1171 C1113,1158.7 1117.5,1152 1123,1152 C1128.5,1152 1133,1158.7 1133,1171Z"/>
<rect x="790" y="1170" width="346" height="33"/>
</g>
</g>

<!-- e conc -->
<g clip-path="url(#ce2)">
<rect x="83" y="1213" width="342" height="259" fill="#7C70E2"/>
<rect x="83" y="1392" width="342" height="48" fill="url(#bandCe)"/>
<rect x="83" y="1418" width="342" height="22" fill="#FF8280"/>
<g stroke="#EEEEFF" stroke-opacity=".75" stroke-width="4" stroke-dasharray="1.6 7.2"><path d="M86,1265H422 M86,1320H422 M86,1374H422 M86,1429H422"/></g>
<rect transform="translate(68.6,1428.5)" x="14.4" width="342" height="11" fill="url(#pBumpC)"/>
<rect x="83" y="1439" width="342" height="33" fill="#C0C0C0"/>
</g>

<!-- f conc -->
<g clip-path="url(#cf2)">
<rect x="435" y="1213" width="347" height="258" fill="#7C70E2"/>
<rect x="435" y="1382" width="347" height="58" fill="url(#bandCf)"/>
<rect x="435" y="1410" width="347" height="30" fill="#FF8280"/>
<g stroke="#EEEEFF" stroke-opacity=".75" stroke-width="4" stroke-dasharray="1.6 7.2"><path d="M438,1260H780 M438,1312H780 M438,1363H780 M438,1415H780"/></g>
<g fill="#C0C0C0">
<path d="M437,1439 C437,1425.4 441.5,1418 447,1418 C452.5,1418 457,1425.4 457,1439Z"/>
<path d="M468,1439 C468,1425.4 472.5,1418 478,1418 C483.5,1418 488,1425.4 488,1439Z"/>
<path d="M506,1439 C506,1421.5 510.5,1412 516,1412 C521.5,1412 526,1421.5 526,1439Z"/>
<path d="M539,1439 C539,1424.7 543.5,1417 549,1417 C554.5,1417 559,1424.7 559,1439Z"/>
<path d="M577,1439 C577,1421.5 581.5,1412 587,1412 C592.5,1412 597,1421.5 597,1439Z"/>
<path d="M618,1439 C618,1422 622.5,1413 628,1413 C633.5,1413 638,1422 638,1439Z"/>
<path d="M654,1439 C654,1424.7 658.5,1417 664,1417 C669.5,1417 674,1424.7 674,1439Z"/>
<path d="M688,1439 C688,1422 692.5,1413 698,1413 C703.5,1413 708,1422 708,1439Z"/>
<path d="M725,1439 C725,1425.4 729.5,1418 735,1418 C740.5,1418 745,1425.4 745,1439Z"/>
<path d="M758,1439 C758,1425.4 762.5,1418 768,1418 C773.5,1418 778,1425.4 778,1439Z"/>
<rect x="435" y="1438" width="347" height="33"/>
</g>
</g>

<!-- g conc -->
<g clip-path="url(#cg2)">
<rect x="790" y="1213" width="346" height="259" fill="#7C70E2"/>
<path d="M780,1450 L780,1406 C815,1404 845,1400 862,1390 C880,1376 890,1364 910,1362 L1020,1362 C1040,1364 1050,1376 1068,1390 C1085,1400 1110,1404 1146,1406 L1146,1450Z" fill="#FF8280" filter="url(#bl8)"/>
<g stroke="#EEEEFF" stroke-opacity=".75" stroke-width="4" stroke-dasharray="1.6 7.2"><path d="M793,1252H1134 M793,1298H1134 M793,1343H1134 M793,1387H1134"/></g>
<g fill="#C0C0C0">
<path d="M793,1439 C793,1428 798,1422 804,1422 C810,1422 815,1428 815,1439Z"/>
<path d="M823,1439 C823,1422 828.4,1413 835,1413 C841.6,1413 847,1422 847,1439Z"/>
<path d="M863,1439 C863,1410.4 867.5,1395 873,1395 C878.5,1395 883,1410.4 883,1439Z"/>
<path d="M896,1439 C896,1396 900,1373 905,1373 C910,1373 914,1396 914,1439Z"/>
<path d="M935,1439 C935,1396 939,1373 944,1373 C949,1373 953,1396 953,1439Z"/>
<path d="M973,1439 C973,1396 977,1373 982,1373 C987,1373 991,1396 991,1439Z"/>
<path d="M1014,1439 C1014,1396 1017.6,1373 1022,1373 C1026.4,1373 1030,1396 1030,1439Z"/>
<path d="M1045,1439 C1045,1410.4 1048.6,1395 1053,1395 C1057.4,1395 1061,1410.4 1061,1439Z"/>
<path d="M1079,1439 C1079,1422 1084,1413 1090,1413 C1096,1413 1101,1422 1101,1439Z"/>
<path d="M1113,1439 C1113,1428 1117.5,1422 1123,1422 C1128.5,1422 1133,1428 1133,1439Z"/>
<rect x="790" y="1439" width="346" height="33"/>
</g>
</g>

<!-- sub-panel labels -->
<g font-size="22">
<text x="95" y="972">i )</text><text x="455" y="972">i )</text><text x="818" y="972">i )</text>
<text x="90" y="1251">ii )</text><text x="451" y="1251">ii )</text><text x="812" y="1251">ii )</text>
</g>

<!-- colorbars -->
<rect x="1165" y="977" width="13" height="186" fill="url(#cbE)"/>
<rect x="1165" y="1253" width="13" height="186" fill="url(#cbC)"/>
<g font-size="22">
<text x="1155" y="968">Max</text><text x="1155" y="1186">Min</text>
<text x="1155" y="1244">Max</text><text x="1155" y="1461">Min</text>
</g>
</svg>
</body></html>
